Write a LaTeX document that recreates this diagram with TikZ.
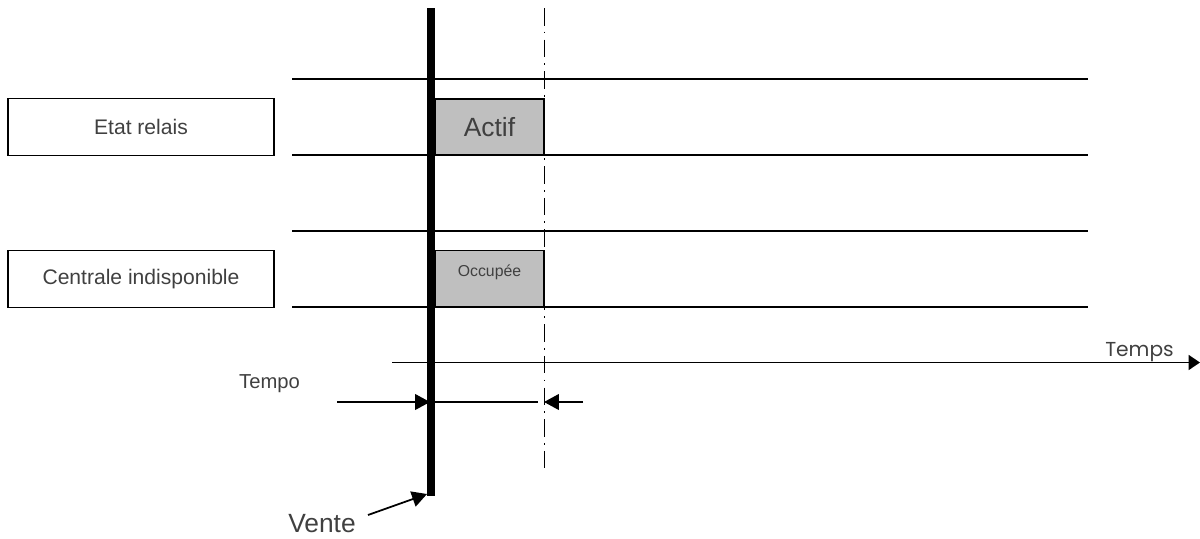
\documentclass[tikz,border=0pt]{standalone}
\usepackage{fontspec}
\setmainfont{Liberation Sans}
\newfontfamily\axisfont{Poppins}
\usetikzlibrary{arrows.meta}

\tikzset{
  namebox/.style={draw, line width=0.8pt, minimum width=5.32cm, minimum height=1.13cm, inner sep=0pt, font=\fontsize{12}{14}\selectfont},
  statebox/.style={draw, fill=black!25, line width=0.8pt, minimum width=2.18cm, minimum height=1.12cm, inner sep=0pt},
  track/.style={line width=1.1pt},
  tip/.style={-{Triangle[length=8.5pt,width=9pt]}},
}

\begin{document}
\begin{tikzpicture}[x=0.02cm,y=-0.02cm, every node/.style={text=black!75}]
  \useasboundingbox (0,0) rectangle (1200,538);
  % signal names
  \node [namebox] (relais) at (141,127) {Etat relais};
  \node [namebox] (centrale) at (141,279) {Centrale indisponible};
  % tracks
  \foreach \y/\n in {79/a, 155/b, 231/c, 307/d} {
    \coordinate (t\n0) at (292,\y);
    \coordinate (t\n1) at (1088,\y);
    \draw [track] (t\n0) -- (t\n1);
  }
  % states
  \node [statebox, font=\fontsize{15}{18}\selectfont] (actif) at (489.5,127) {Actif};
  \node [statebox] (occupee) at (489.5,278.5) {};
  \node [anchor=base, font=\fontsize{9}{11}\selectfont] (occtxt) at (489.5,276) {Occupée};
  % sale and end of tempo
  \coordinate (venteTop) at (431,8);
  \coordinate (venteBot) at (431,496);
  \draw [line width=4pt] (venteTop) -- (venteBot);
  \coordinate (finTop) at (544.5,8);
  \coordinate (finBot) at (544.5,474);
  \draw [line width=0.8pt, dash pattern=on 10pt off 3.5pt on 1pt off 3.5pt] (finTop) -- (finBot);
  % time axis
  \coordinate (axe0) at (392,362.5);
  \coordinate (axe1) at (1200,362.5);
  \draw [line width=1.1pt, -{Triangle[length=6.5pt,width=8.5pt]}] (axe0) -- (axe1);
  \node [anchor=base, font=\axisfont\fontsize{11.5}{13}\selectfont] (temps) at (1139.5,356) {Temps};
  % tempo
  \node [anchor=base, font=\fontsize{11.5}{13}\selectfont] (tempo) at (269.5,388) {Tempo};
  \coordinate (tempo0) at (337,402);
  \coordinate (tempo1) at (430,402);
  \coordinate (tempo2) at (538,402);
  \coordinate (tempo3) at (583,402);
  \coordinate (tempo4) at (544,402);
  \draw [line width=0.8pt, tip] (tempo0) -- (tempo1);
  \draw [line width=0.8pt] (tempo1) -- (tempo2);
  \draw [line width=0.8pt, tip] (tempo3) -- (tempo4);
  % sale
  \node [anchor=base, font=\fontsize{15}{18}\selectfont] (vente) at (322,532) {Vente};
  \coordinate (vente0) at (368,515);
  \coordinate (vente1) at (427,494);
  \draw [line width=1pt, tip] (vente0) -- (vente1);
\end{tikzpicture}
\end{document}
